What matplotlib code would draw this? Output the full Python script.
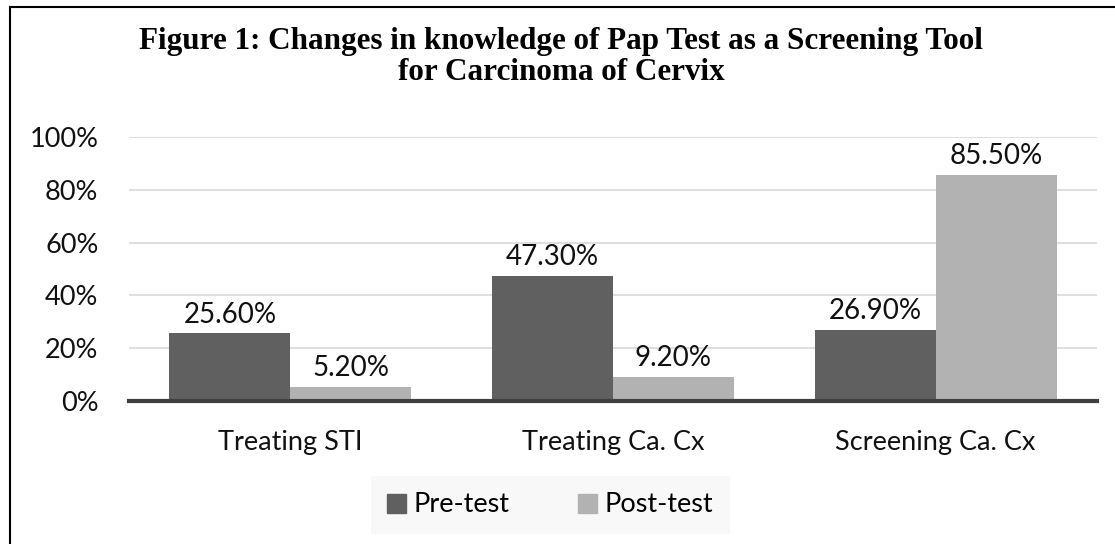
import numpy as np
import matplotlib
matplotlib.use("Agg")
import matplotlib.pyplot as plt
from matplotlib.lines import Line2D
from matplotlib.ticker import PercentFormatter

categories = ["Treating STI", "Treating Ca. Cx", "Screening Ca. Cx"]
pre_test = [25.6, 47.3, 26.9]
post_test = [5.2, 9.2, 85.5]
series_names = ["Pre-test", "Post-test"]
y_ticks = [0, 20, 40, 60, 80, 100]

PRE_COLOR = "#606060"
POST_COLOR = "#b2b2b2"
LABEL_FONT = ["Lato", "DejaVu Sans"]

fig = plt.figure(figsize=(11.15, 5.44), dpi=100)
ax = fig.add_axes([129 / 1115, 1 - 401 / 544, (1097 - 129) / 1115, (401 - 137) / 544])

x = np.arange(len(categories))
w = 0.375
b1 = ax.bar(x - w / 2, pre_test, w, color=PRE_COLOR, label=series_names[0], zorder=2)
b2 = ax.bar(x + w / 2, post_test, w, color=POST_COLOR, label=series_names[1], zorder=2)

for bars, vals in ((b1, pre_test), (b2, post_test)):
    for bar, v in zip(bars, vals):
        ax.text(bar.get_x() + bar.get_width() / 2, v + 2.2, f"{v:.2f}%",
                ha="center", va="bottom", fontsize=20, family=LABEL_FONT, color="#111111")

ax.set_xlim(-0.5, len(categories) - 0.5)
ax.set_ylim(0, 100)
ax.set_yticks(y_ticks)
ax.yaxis.set_major_formatter(PercentFormatter(decimals=0))
ax.set_xticks(x)
ax.set_xticklabels(categories)
for lab in ax.get_xticklabels() + ax.get_yticklabels():
    lab.set_family(LABEL_FONT)
    lab.set_fontsize(19.5)
    lab.set_color("#111111")
ax.tick_params(axis="both", length=0)
ax.tick_params(axis="y", pad=22)
ax.tick_params(axis="x", pad=21)

ax.grid(axis="y", color="#d9d9d9", linewidth=1.2, zorder=0)
for side in ("top", "right", "left"):
    ax.spines[side].set_visible(False)
ax.spines["bottom"].set_color("#404040")
ax.spines["bottom"].set_linewidth(3)
ax.spines["bottom"].set_zorder(3)

fig.text(0.503, 1 - 57 / 544,
         "Figure 1: Changes in knowledge of Pap Test as a Screening Tool\nfor Carcinoma of Cervix",
         ha="center", va="center", fontsize=22.4, fontweight="bold",
         family=["Liberation Serif", "DejaVu Serif"], linespacing=1.05)

handles = [plt.Rectangle((0, 0), 1, 1, color=PRE_COLOR), plt.Rectangle((0, 0), 1, 1, color=POST_COLOR)]
leg = fig.legend(handles, series_names, loc="center", bbox_to_anchor=(550 / 1115, 1 - 505 / 544),
                 ncol=2, frameon=True, prop={"family": LABEL_FONT, "size": 19.5},
                 handlelength=0.7, handleheight=0.7, handletextpad=0.3, columnspacing=2.5,
                 borderpad=0.6, borderaxespad=0, fancybox=False)
leg.get_frame().set_facecolor("#f7f7f7")
leg.get_frame().set_edgecolor("#f7f7f7")
leg.get_frame().set_linewidth(0)

# outer frame (left and top edges visible in the source)
fig.add_artist(Line2D([10 / 1115, 10 / 1115], [0, 1 - 7 / 544], color="black", linewidth=1.5))
fig.add_artist(Line2D([10 / 1115, 1], [1 - 7 / 544, 1 - 7 / 544], color="black", linewidth=1.5))

fig.savefig("out.png", dpi=100)
